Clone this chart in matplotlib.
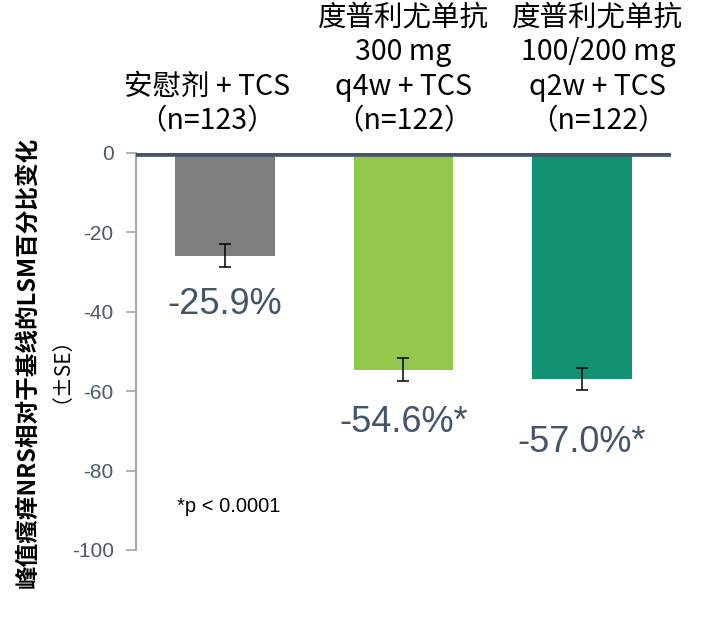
import matplotlib
matplotlib.use("Agg")
import matplotlib.pyplot as plt
import numpy as np

plt.rcParams["font.family"] = ["Liberation Sans", "Noto Sans CJK SC", "DejaVu Sans"]
plt.rcParams["axes.unicode_minus"] = False

CJK = ["Noto Sans CJK SC", "DejaVu Sans"]

groups = ["安慰剂 + TCS\n（n=123）",
          "度普利尤单抗\n300 mg\nq4w + TCS\n（n=122）",
          "度普利尤单抗\n100/200 mg\nq2w + TCS\n（n=122）"]
values = [-25.9, -54.6, -57.0]
errors = [2.9, 2.9, 2.8]
value_labels = ["-25.9%", "-54.6%*", "-57.0%*"]
colors = ["#7F7F7F", "#92C84C", "#109273"]
yticks = [0, -20, -40, -60, -80, -100]

SLATE = "#44546A"

fig = plt.figure(figsize=(7.27, 6.19), dpi=100)
ax = fig.add_axes([0.187, 0.1115, 0.736, 0.642])

x = np.arange(len(values))
ax.bar(x, values, width=0.56, color=colors, zorder=2)
ax.errorbar(x, values, yerr=errors, fmt="none", ecolor="black",
            elinewidth=1.1, capsize=4, capthick=1.1, zorder=3)
ax.axhline(0, color=SLATE, lw=4.8, zorder=4)

ax.set_xlim(-0.5, 2.5)
ax.set_ylim(-100, 0)
ax.set_xticks([])
ax.set_yticks(yticks)
ax.tick_params(axis="y", direction="out", length=7, width=1.2,
               color="#A6A6A6", labelcolor="#4D5A6B", labelsize=15, pad=9)
for side in ["top", "right", "bottom"]:
    ax.spines[side].set_visible(False)
ax.spines["left"].set_color("#A6A6A6")
ax.spines["left"].set_linewidth(1.5)

# value labels under each error bar
gaps = [5, 6, 8.7]
for xi, v, e, g, lab in zip(x, values, errors, gaps, value_labels):
    ax.text(xi, v - e - g, lab, ha="center", va="top", fontsize=26,
            color=SLATE)

# group headings above the plot
label_dx = [-0.1, 0.0, 0.09]
for xi, dx, lab in zip(x, label_dx, groups):
    ax.text(xi + dx, 1.04, lab, transform=ax.get_xaxis_transform(),
            ha="center", va="bottom", fontsize=20.5, family=CJK,
            linespacing=1.2)

ax.text(0.077, 0.11, "*p < 0.0001", transform=ax.transAxes, fontsize=14.5,
        color="black", ha="left", va="center")

fig.text(0.038, 0.415, "峰值瘙痒NRS相对于基线的LSM百分比变化", rotation=90,
         ha="center", va="center", fontsize=17, fontweight="bold", family=CJK)
fig.text(0.07, 0.42, "（±SE）", rotation=90, ha="center", va="center",
         fontsize=15, family=CJK)

fig.savefig("out.png", dpi=100)
